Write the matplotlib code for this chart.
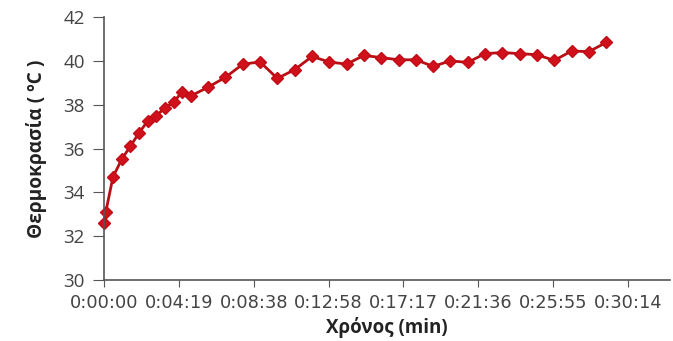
import matplotlib
matplotlib.use("Agg")
import matplotlib.pyplot as plt
from matplotlib.ticker import FuncFormatter

# χρόνος σε δευτερόλεπτα, θερμοκρασία σε ºC
xronos = [0, 5, 30, 60, 90, 120, 150, 180, 210, 240, 270, 300, 360, 420, 480,
          540, 600, 660, 720, 780, 840, 900, 960, 1020, 1080, 1140, 1200, 1260,
          1320, 1380, 1440, 1500, 1560, 1620, 1680, 1740]
thermokrasia = [32.6, 33.1, 34.7, 35.5, 36.1, 36.7, 37.25, 37.5, 37.85, 38.1,
                38.6, 38.4, 38.8, 39.25, 39.85, 39.95, 39.2, 39.6, 40.2, 39.95,
                39.85, 40.25, 40.15, 40.05, 40.05, 39.75, 40.0, 39.93, 40.33,
                40.38, 40.33, 40.28, 40.02, 40.45, 40.42, 40.84]
y_ticks = [30, 32, 34, 36, 38, 40, 42]
x_ticks = [0, 259.2, 518.4, 777.6, 1036.8, 1296, 1555.2, 1814.4]


def hms(t, pos=None):
    t = int(round(t))
    return f"{t // 3600}:{(t % 3600) // 60:02d}:{t % 60:02d}"


plt.rcParams['font.family'] = ['Open Sans', 'DejaVu Sans']

fig = plt.figure(figsize=(6.73, 3.41), dpi=100)
ax = fig.add_axes([0.155, 0.179, 0.84, 0.771])

ax.plot(xronos, thermokrasia, color='#b80f14', linewidth=2,
        marker='D', markersize=6.5, markerfacecolor='#d0101a',
        markeredgecolor='#c00d16', clip_on=False)

ax.set_xlim(0, 1960)
ax.set_ylim(30, 42)
ax.set_yticks(y_ticks)
ax.set_xticks(x_ticks)
ax.xaxis.set_major_formatter(FuncFormatter(hms))

for s in ['top', 'right']:
    ax.spines[s].set_visible(False)
for s in ['left', 'bottom']:
    ax.spines[s].set_color('#555555')
    ax.spines[s].set_linewidth(1.2)

ax.tick_params(axis='y', direction='out', length=8, color='#555555',
               labelsize=13.5, labelcolor='#444444', pad=6)
ax.tick_params(axis='x', direction='out', length=5, color='#555555',
               labelsize=12.8, labelcolor='#444444', pad=5)
for lab in ax.get_xticklabels():
    lab.set_family('DejaVu Sans')

ax.set_ylabel('Θερμοκρασία ( ºC )', fontsize=13.8, fontweight='bold',
              color='#222222', labelpad=12)
ax.set_xlabel('Χρόνος (min)', fontsize=13.5, fontweight='bold',
              color='#222222', labelpad=4)

fig.savefig('out.png', dpi=100)
